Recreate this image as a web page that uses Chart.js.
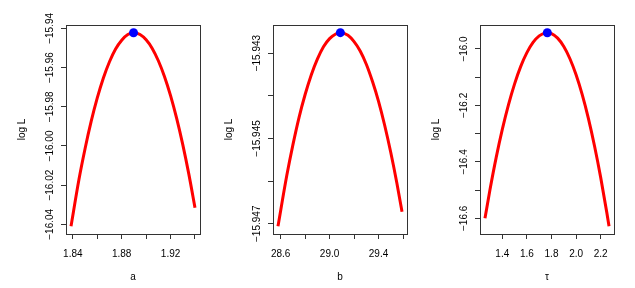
<!DOCTYPE html>
<html>
<head>
<meta charset="utf-8">
<script src="https://cdn.jsdelivr.net/npm/chart.js@4.4.1/dist/chart.umd.min.js"></script>
<style>
  body { margin: 0; background: #fff; }
  #wrap { position: relative; width: 635px; height: 288px; overflow: hidden; }
  canvas { position: absolute; top: 0; }
</style>
</head>
<body>
<div id="wrap">
  <canvas id="c1" width="211" height="288" style="left:0px"></canvas>
  <canvas id="c2" width="211" height="288" style="left:207px"></canvas>
  <canvas id="c3" width="211" height="288" style="left:414px"></canvas>
</div>
<script>
// panel a
const aVals = [1.8385, 1.845, 1.85, 1.855, 1.86, 1.865, 1.87, 1.875, 1.88, 1.885, 1.89,
               1.895, 1.90, 1.905, 1.91, 1.915, 1.92, 1.925, 1.93, 1.935, 1.94];
const aLogL = [-16.041, -16.0171, -16.0014, -15.9875, -15.9755, -15.9653, -15.957, -15.9505, -15.946, -15.9431, -15.9422,
               -15.9431, -15.9458, -15.9502, -15.9565, -15.9645, -15.9743, -15.9859, -15.9993, -16.0145, -16.0315];
const aPeak = [1.8897, -15.9422];
const aXTicks = [1.84, 1.86, 1.88, 1.90, 1.92, 1.94];
const aXLabels = ['1.84', '', '1.88', '', '1.92', ''];
const aYTicks = [-15.94, -15.96, -15.98, -16.00, -16.02, -16.04];
const aYLabels = ['\u221215.94', '\u221215.96', '\u221215.98', '\u221216.00', '\u221216.02', '\u221216.04'];
const aXRange = [1.8344, 1.9441];
const aYRange = [-16.04495, -15.93825];

// panel b
const bVals = [28.578, 28.65, 28.70, 28.75, 28.80, 28.85, 28.90, 28.95, 29.00, 29.05, 29.088,
               29.15, 29.20, 29.25, 29.30, 29.35, 29.40, 29.45, 29.50, 29.55, 29.592];
const bLogL = [-15.94706, -15.94587, -15.94515, -15.94451, -15.94397, -15.94351, -15.94314, -15.94285, -15.94266, -15.94255, -15.94252,
               -15.94258, -15.94273, -15.94295, -15.94326, -15.94366, -15.94413, -15.94469, -15.94533, -15.94605, -15.94672];
const bPeak = [29.088, -15.94252];
const bXTicks = [28.6, 28.8, 29.0, 29.2, 29.4, 29.6];
const bXLabels = ['28.6', '', '29.0', '', '29.4', ''];
const bYTicks = [-15.943, -15.944, -15.945, -15.946, -15.947];
const bYLabels = ['\u221215.943', '', '\u221215.945', '', '\u221215.947'];
const bXRange = [28.5374, 29.6326];
const bYRange = [-15.94724, -15.94234];

// panel tau
const tVals = [1.259, 1.30, 1.35, 1.40, 1.45, 1.50, 1.55, 1.60, 1.65, 1.70, 1.75, 1.766,
               1.80, 1.85, 1.90, 1.95, 2.00, 2.05, 2.10, 2.15, 2.20, 2.25, 2.268];
const tLogL = [-16.600, -16.498, -16.385, -16.285, -16.198, -16.1235, -16.0618, -16.013, -15.9769, -15.9536, -15.9432, -15.9425,
               -15.9456, -15.9617, -15.9913, -16.0346, -16.0914, -16.1619, -16.2459, -16.3436, -16.4548, -16.5797, -16.628];
const tPeak = [1.766, -15.9425];
const tXTicks = [1.4, 1.6, 1.8, 2.0, 2.2];
const tXLabels = ['1.4', '1.6', '1.8', '2.0', '2.2'];
const tYTicks = [-16.0, -16.1, -16.2, -16.3, -16.4, -16.5, -16.6];
const tYLabels = ['\u221216.0', '', '\u221216.2', '', '\u221216.4', '', '\u221216.6'];
const tXRange = [1.2186, 2.3084];
const tYRange = [-16.6554, -15.9151];

const FONT = "'Liberation Sans', Arial, Helvetica, sans-serif";

const measureCtx = document.createElement('canvas').getContext('2d');
measureCtx.font = '10px ' + FONT;
const widest = labels => Math.max(...labels.map(l => measureCtx.measureText(l).width));

const boxPlugin = {
    id: 'box',
    afterDraw(chart) {
        const a = chart.chartArea;
        const ctx = chart.ctx;
        ctx.save();
        ctx.strokeStyle = '#333';
        ctx.lineWidth = 1;
        ctx.strokeRect(Math.round(a.left) + 0.5, Math.round(a.top) + 0.5,
                       Math.round(a.right - a.left), Math.round(a.bottom - a.top));
        ctx.restore();
    }
};

function drawPanel(id, xs, ys, peak, xTicks, xLabels, yTicks, yLabels, xRange, yRange, xTitle) {
    const pts = xs.map((x, i) => ({ x: x, y: ys[i] }));
    const yPad = 16 - 5 - widest(yLabels) / 2;
    return new Chart(document.getElementById(id), {
        type: 'line',
        data: {
            datasets: [
                {
                    data: [{ x: peak[0], y: peak[1] }],
                    showLine: false,
                    pointRadius: 4.5,
                    pointBackgroundColor: '#0000ff',
                    pointBorderWidth: 0
                },
                {
                    data: pts,
                    borderColor: '#ff0000',
                    borderWidth: 3,
                    pointRadius: 0,
                    fill: false,
                    cubicInterpolationMode: 'monotone'
                }
            ]
        },
        plugins: [boxPlugin],
        options: {
            responsive: false,
            animation: false,
            events: [],
            layout: { padding: { left: 0, right: 11, top: 25, bottom: 0 } },
            plugins: { legend: { display: false }, tooltip: { enabled: false } },
            scales: {
                x: {
                    type: 'linear',
                    min: xRange[0],
                    max: xRange[1],
                    afterBuildTicks: s => { s.ticks = xTicks.map(v => ({ value: v })); },
                    afterFit: s => { s.height = 54; },
                    border: { display: false },
                    grid: { drawOnChartArea: false, drawTicks: true, tickLength: 5, color: '#333' },
                    ticks: {
                        autoSkip: false,
                        maxRotation: 0,
                        padding: 9,
                        color: '#000',
                        font: { family: FONT, size: 10 },
                        callback: (v, i) => xLabels[i]
                    },
                    title: {
                        display: true,
                        text: xTitle,
                        color: '#000',
                        font: { family: FONT, size: 10 },
                        padding: { top: 0, bottom: 5 }
                    }
                },
                y: {
                    type: 'linear',
                    min: yRange[0],
                    max: yRange[1],
                    afterBuildTicks: s => { s.ticks = yTicks.map(v => ({ value: v })); },
                    afterFit: s => { s.width = 66; },
                    border: { display: false },
                    grid: { drawOnChartArea: false, drawTicks: true, tickLength: 5, color: '#333' },
                    ticks: {
                        autoSkip: false,
                        minRotation: 90,
                        maxRotation: 90,
                        crossAlign: 'center',
                        padding: yPad,
                        color: '#000',
                        font: { family: FONT, size: 10 },
                        callback: (v, i) => yLabels[i]
                    },
                    title: {
                        display: true,
                        text: 'log L',
                        color: '#000',
                        font: { family: FONT, size: 10 },
                        padding: { top: 16, bottom: 0 }
                    }
                }
            }
        }
    });
}

drawPanel('c1', aVals, aLogL, aPeak, aXTicks, aXLabels, aYTicks, aYLabels, aXRange, aYRange, 'a');
drawPanel('c2', bVals, bLogL, bPeak, bXTicks, bXLabels, bYTicks, bYLabels, bXRange, bYRange, 'b');
drawPanel('c3', tVals, tLogL, tPeak, tXTicks, tXLabels, tYTicks, tYLabels, tXRange, tYRange, '\u03c4');
</script>
</body>
</html>
